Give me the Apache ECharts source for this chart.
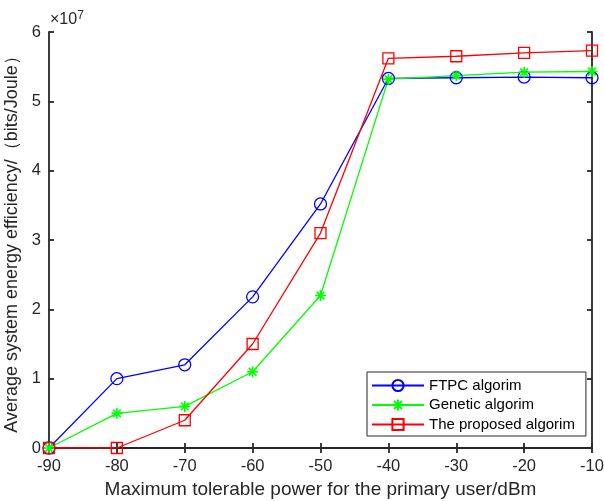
<!DOCTYPE html>
<html>
<head>
<meta charset="utf-8">
<script src="https://cdn.jsdelivr.net/npm/echarts@6/dist/echarts.min.js"></script>
<style>
  html, body { margin: 0; padding: 0; background: #fff; }
  #chart { width: 604px; height: 501px; }
</style>
</head>
<body>
<div id="chart"></div>
<script>
// x values (dBm) and series values (x 10^7 bits/Joule)
const powerLevels = [-90, -80, -70, -60, -50, -40, -30, -20, -10]
const ftpcValues = [0, 1.0, 1.2, 2.18, 3.52, 5.33, 5.34, 5.35, 5.34]
const geneticValues = [0, 0.5, 0.6, 1.1, 2.2, 5.32, 5.37, 5.42, 5.43]
const proposedValues = [0, 0, 0.4, 1.5, 3.1, 5.62, 5.65, 5.70, 5.73]
const yTicks = [0, 1, 2, 3, 4, 5, 6]

const asterisk = 'path://M0,5L10,5M5,0L5,10M1.5,1.5L8.5,8.5M8.5,1.5L1.5,8.5'
const font = 'Arial, "Liberation Sans", sans-serif'

function pairs(vals) {
  return powerLevels.map((x, i) => [x, vals[i]])
}

const chart = echarts.init(document.getElementById('chart'))
const axisLine = { show: true, lineStyle: { color: '#262626', width: 1.8 } }
const ticks = { show: true, inside: true, length: 5, lineStyle: { color: '#262626', width: 1.8 } }

const option = {
  backgroundColor: '#fff',
  animation: false,
  textStyle: { fontFamily: font },
  grid: { left: 49, right: 12, top: 32, bottom: 53, containLabel: false, outerBoundsMode: 'none' },
  graphic: [{
    type: 'text',
    left: 50,
    top: 10,
    style: {
      text: '×10{sup|7}',
      fill: '#262626',
      font: '16px ' + font,
      rich: { sup: { fontSize: 12, verticalAlign: 'top', padding: [0, 0, 8, 0], fill: '#262626' } }
    }
  }],
  legend: {
    orient: 'vertical',
    left: 367,
    top: 372,
    padding: [6, 11, 4, 4],
    itemGap: 4.5,
    itemWidth: 52,
    itemHeight: 14,
    backgroundColor: '#fff',
    borderColor: '#262626',
    borderWidth: 1,
    borderRadius: 0,
    textStyle: { fontSize: 15, color: '#000', fontFamily: font },
    data: ['FTPC algorim', 'Genetic algorim', 'The proposed algorim']
  },
  xAxis: [{
    type: 'value',
    min: -90,
    max: -10,
    interval: 10,
    name: 'Maximum tolerable power for the primary user/dBm',
    nameLocation: 'middle',
    nameGap: 31,
    nameTextStyle: { fontSize: 19, color: '#262626', fontFamily: font },
    axisLine: axisLine,
    axisTick: ticks,
    axisLabel: { fontSize: 16.5, color: '#262626', margin: 10, fontFamily: font },
    splitLine: { show: false }
  }, {
    type: 'value',
    position: 'top',
    min: -90,
    max: -10,
    interval: 10,
    axisLine: axisLine,
    axisTick: ticks,
    axisLabel: { show: false },
    splitLine: { show: false }
  }],
  yAxis: [{
    type: 'value',
    min: yTicks[0],
    max: yTicks[yTicks.length - 1],
    interval: 1,
    name: 'Average system energy efficiency/（bits/Joule）',
    nameLocation: 'middle',
    nameGap: 22,
    nameTextStyle: { fontSize: 18, color: '#262626', fontFamily: font },
    axisLine: axisLine,
    axisTick: ticks,
    axisLabel: { fontSize: 16.5, color: '#262626', margin: 8, fontFamily: font },
    splitLine: { show: false }
  }, {
    type: 'value',
    position: 'right',
    min: yTicks[0],
    max: yTicks[yTicks.length - 1],
    interval: 1,
    axisLine: axisLine,
    axisTick: ticks,
    axisLabel: { show: false },
    splitLine: { show: false }
  }],
  series: [
    {
      name: 'FTPC algorim',
      type: 'line',
      data: pairs(ftpcValues),
      symbol: 'circle',
      symbolSize: 12,
      lineStyle: { color: '#0000ff', width: 1.3 },
      itemStyle: { color: 'rgba(0,0,0,0)', borderColor: '#0000ff', borderWidth: 1.3 }
    },
    {
      name: 'Genetic algorim',
      type: 'line',
      data: pairs(geneticValues),
      symbol: asterisk,
      symbolSize: 11,
      lineStyle: { color: '#00ff00', width: 1.3 },
      itemStyle: { color: 'rgba(0,0,0,0)', borderColor: '#00ff00', borderWidth: 1.6 }
    },
    {
      name: 'The proposed algorim',
      type: 'line',
      data: pairs(proposedValues),
      symbol: 'rect',
      symbolSize: 11,
      lineStyle: { color: '#ff0000', width: 1.3 },
      itemStyle: { color: 'rgba(0,0,0,0)', borderColor: '#ff0000', borderWidth: 1.3 }
    }
  ]
}
chart.setOption(option)
</script>
</body>
</html>
